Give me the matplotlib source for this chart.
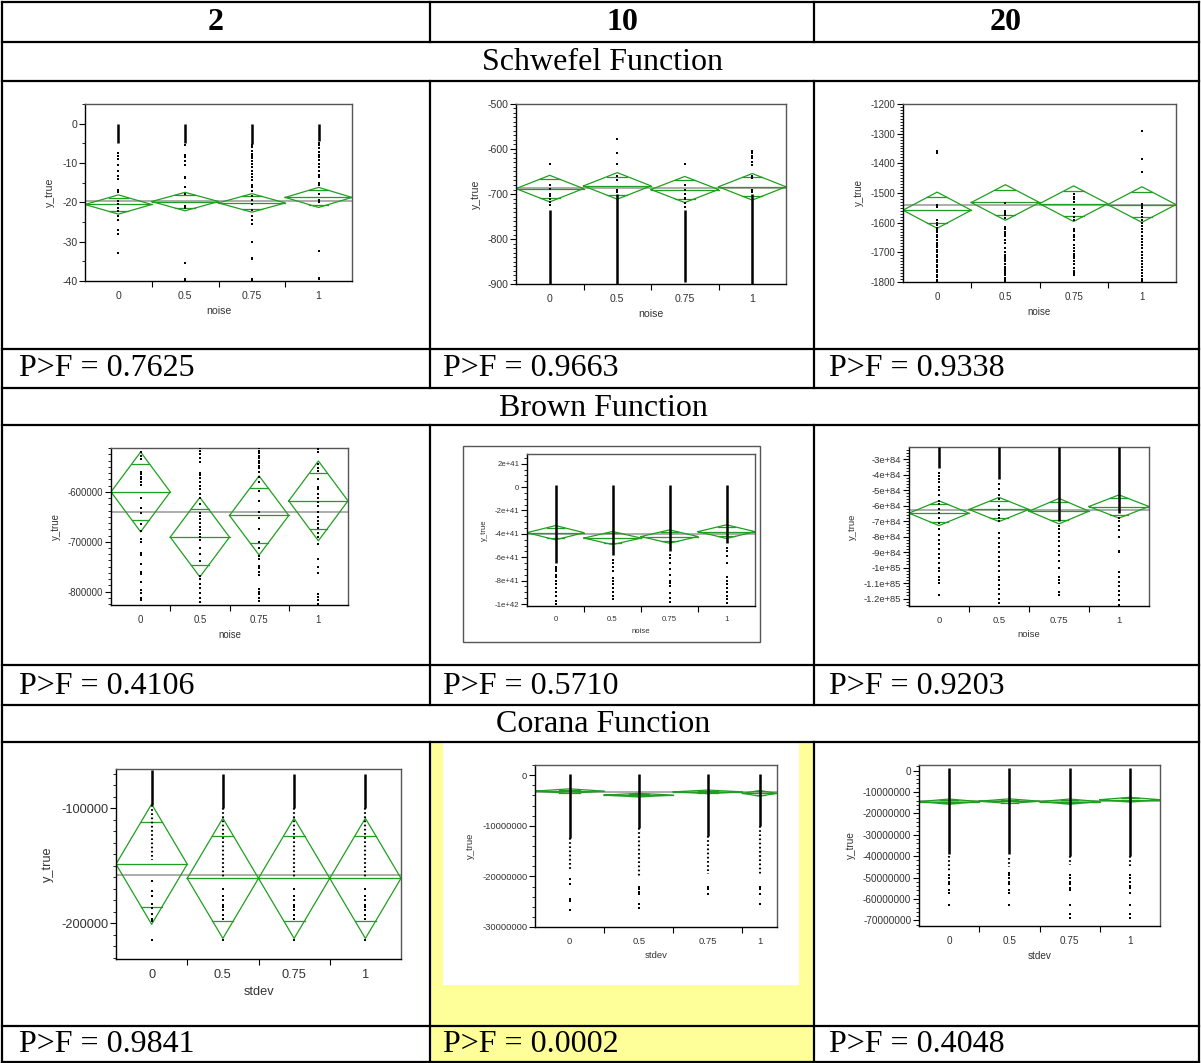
import matplotlib.pyplot as plt
from matplotlib.patches import Rectangle
from matplotlib.ticker import MultipleLocator
import numpy as np

plt.rcParams['axes.unicode_minus'] = False

W, H = 1201, 1063

COL_HEADERS = ['2', '10', '20']
FUNCTIONS = ['Schwefel Function', 'Brown Function', 'Corana Function']
P_VALUES = [['0.7625', '0.9663', '0.9338'],
            ['0.4106', '0.5710', '0.9203'],
            ['0.9841', '0.0002', '0.4048']]
GROUPS = ['0', '0.5', '0.75', '1']
EQUAL_W = [1, 1, 1, 1]

# ---- Schwefel, 2 ----
SCH2_MEAN = [-20.55, -19.8, -20.15, -18.75]
SCH2_CI = [2.45, 2.35, 2.35, 2.55]
SCH2_GRAND = -19.6
SCH2_DENSE = [(-0.2, -5.0), (-0.2, -4.8), (-0.2, -5.2), (-0.1, -4.5)]
SCH2_PTS = [
    [-7.5, -8.2, -9, -10.5, -12, -13.2, -14, -16.8, -17.5, -19.6, -20.4, -21.5, -22.3, -23.6, -24.5, -27, -28, -33],
    [-5.5, -8, -8.5, -9.5, -10.5, -13.5, -13.8, -16, -18, -21, -21.4, -35.5, -39.5, -39.8],
    [-5.5, -6, -7, -7.8, -8.3, -8.8, -9.5, -10.2, -11, -12, -12.8, -13.6, -14.3, -15.5, -16.2, -17, -18.3,
     -19.3, -20.4, -22, -23.5, -24.5, -25.5, -30, -34.2, -34.5, -39.5, -39.8],
    [-5, -5.5, -6.3, -7.2, -8, -8.6, -9.3, -10.2, -11, -12, -13, -13.5, -15, -15.6, -18, -19.4, -20, -32.5,
     -39.2, -39.6],
]

# ---- Schwefel, 10 ----
SCH10_MEAN = [-688, -682, -690, -684]
SCH10_CI = [29.5, 29.5, 29, 29.5]
SCH10_GRAND = -686.5
SCH10_DENSE = [(-735, -900), (-700, -900), (-735, -895), (-700, -900)]
SCH10_PTS = [
    [-634, -680, -688, -700, -705, -712, -718, -725],
    [-578, -610, -634, -660, -668, -690, -695],
    [-634, -680, -690, -700, -708, -712, -720, -728],
    [-605, -610, -615, -620, -628, -635, -660, -665, -690, -695],
]

# ---- Schwefel, 20 ----
SCH20_MEAN = [-1558, -1532, -1536, -1539]
SCH20_CI = [61, 60, 60, 60]
SCH20_GRAND = -1541
SCH20_PTS = [
    [-1360, -1366, -1541, -1547, -1592, -1600, -1608, -1617, -1625, -1633, -1642, -1650, -1658, -1667, -1675,
     -1683, -1692, -1700, -1708, -1717, -1725, -1733, -1742, -1750, -1758, -1767, -1775, -1783, -1792, -1798],
    [-1535, -1560, -1568, -1575, -1583, -1615, -1622, -1630, -1638, -1645, -1660, -1670, -1685, -1700, -1708,
     -1715, -1722, -1730, -1740, -1748, -1755, -1762, -1770, -1778, -1785, -1792, -1798],
    [-1503, -1512, -1520, -1532, -1553, -1567, -1580, -1590, -1620, -1628, -1640, -1650, -1660, -1675, -1685,
     -1695, -1705, -1712, -1720, -1730, -1740, -1752, -1762, -1770, -1778],
    [-1290, -1385, -1430, -1537, -1545, -1552, -1560, -1570, -1580, -1590, -1600, -1610, -1622, -1632, -1645,
     -1655, -1665, -1675, -1685, -1700, -1710, -1720, -1730, -1740, -1750, -1760, -1770, -1780, -1790, -1798],
]

# ---- Brown, 2 ----
BR2_MEAN = [-600000, -690700, -647300, -618000]
BR2_CI = [80000, 79700, 79300, 80000]
BR2_GRAND = -639300
BR2_PTS = [
    [-520000, -528000, -535000, -560000, -565000, -570000, -575000, -580000, -587000, -612000, -632000, -642000,
     -665000, -678000, -695000, -700000, -722000, -727000, -745000, -760000, -765000, -780000, -797000, -803000,
     -812000, -817000],
    [-513000, -518000, -525000, -532000, -540000, -563000, -567000, -572000, -580000, -588000, -595000, -605000,
     -612000, -625000, -642000, -648000, -655000, -662000, -670000, -677000, -685000, -690000, -697000, -712000,
     -725000, -738000, -768000, -775000, -785000, -793000, -802000, -812000, -820000],
    [-513000, -518000, -523000, -528000, -533000, -538000, -543000, -548000, -553000, -560000, -570000, -580000,
     -598000, -618000, -640000, -652000, -675000, -700000, -712000, -728000, -735000, -748000, -753000, -760000,
     -766000, -795000, -800000, -805000, -812000, -818000],
    [-515000, -520000, -545000, -552000, -558000, -575000, -590000, -595000, -605000, -612000, -620000, -628000,
     -640000, -650000, -658000, -665000, -672000, -683000, -690000, -705000, -735000, -750000, -763000, -805000,
     -810000, -817000, -825000],
]

# ---- Brown, 10 ----
BR10_MEAN = [-3.9e41, -4.36e41, -4.23e41, -3.81e41]
BR10_CI = [0.61e41, 0.56e41, 0.57e41, 0.585e41]
BR10_GRAND = -4.03e41
BR10_DENSE = [(0.2e41, -6.5e41), (0.2e41, -5.8e41), (0.2e41, -5.5e41), (0.2e41, -4.8e41)]
BR10_PTS = [
    [-6.8e41, -7.0e41, -7.2e41, -7.5e41, -7.7e41, -8.0e41, -8.3e41, -8.6e41, -9.0e41, -9.3e41, -9.7e41, -1.0e42],
    [-6.2e41, -6.5e41, -6.8e41, -7.2e41, -7.8e41, -8.0e41, -8.3e41, -8.6e41, -9.0e41, -9.3e41, -9.6e41],
    [-5.8e41, -6.1e41, -6.5e41, -7.0e41, -7.5e41, -8.0e41, -8.2e41, -8.5e41, -9.1e41, -9.5e41, -9.8e41],
    [-5.2e41, -5.5e41, -5.9e41, -6.5e41, -7.7e41, -8.0e41, -8.3e41, -8.6e41, -9.0e41, -9.3e41, -9.6e41, -9.9e41],
]

# ---- Brown, 20 ----
BR20_MEAN = [-6.49e84, -6.25e84, -6.36e84, -6.06e84]
BR20_CI = [0.8e84, 0.78e84, 0.82e84, 0.75e84]
BR20_GRAND = -6.28e84
BR20_DENSE = [(-2.2e84, -3.6e84), (-2.2e84, -4.3e84), (-2.2e84, -7.0e84), (-2.2e84, -6.5e84)]
BR20_PTS = [
    [-3.9e84, -4.1e84, -4.3e84, -4.5e84, -4.8e84, -5.0e84, -5.3e84, -5.7e84, -5.9e84, -6.2e84, -6.5e84, -6.8e84,
     -7.1e84, -7.5e84, -7.9e84, -8.2e84, -8.5e84, -8.8e84, -9.1e84, -9.4e84, -9.7e84, -1.0e85, -1.02e85,
     -1.06e85, -1.08e85, -1.1e85, -1.18e85],
    [-4.6e84, -4.9e84, -5.3e84, -5.6e84, -6.0e84, -6.3e84, -6.6e84, -6.8e84, -7.0e84, -7.8e84, -8.1e84, -8.4e84,
     -8.7e84, -9.0e84, -9.3e84, -9.6e84, -9.9e84, -1.02e85, -1.06e85, -1.08e85, -1.11e85, -1.14e85, -1.17e85,
     -1.2e85, -1.23e85],
    [-7.3e84, -7.5e84, -7.8e84, -8.0e84, -8.3e84, -8.6e84, -8.9e84, -9.2e84, -9.6e84, -1.0e85, -1.06e85,
     -1.08e85, -1.1e85, -1.16e85, -1.18e85],
    [-6.8e84, -7.0e84, -7.3e84, -7.6e84, -8.0e84, -8.9e84, -9.0e84, -1.03e85, -1.06e85, -1.09e85, -1.12e85,
     -1.15e85, -1.18e85, -1.21e85, -1.24e85],
]

# ---- Corana, 2 ----
COR2_MEAN = [-148700, -161000, -161000, -161000]
COR2_CI = [52300, 52300, 52300, 52300]
COR2_GRAND = -157800
COR2_DENSE = [(-67000, -97000), (-70000, -100000), (-70000, -100000), (-70000, -100000)]
COR2_DOTTED = [(-97000, -145000), (-100000, -160000), (-100000, -160000), (-100000, -160000)]
COR2_PTS = [
    [-163000, -172000, -176000, -183000, -187000, -192000, -196000, -198000, -215000],
    [-170000, -176000, -180000, -184000, -186000, -189000, -193000, -196000, -215000],
    [-170000, -176000, -180000, -184000, -186000, -189000, -193000, -196000, -215000],
    [-170000, -176000, -180000, -184000, -186000, -189000, -193000, -196000, -215000],
]

# ---- Corana, 10 ----
COR10_WIDTH = [1, 1, 1, 0.5]
COR10_MEAN = [-3.16e6, -3.95e6, -3.3e6, -3.6e6]
COR10_CI = [0.45e6, 0.35e6, 0.35e6, 0.55e6]
COR10_GRAND = -3.42e6
COR10_DENSE = [(0.3e6, -1.25e7), (0.3e6, -1.05e7), (0.3e6, -1.2e7), (0.3e6, -1.0e7)]
COR10_DOTTED = [(-1.25e7, -1.9e7), (-1.05e7, -2.0e7), (-1.2e7, -1.95e7), (-1.0e7, -1.95e7)]
COR10_PTS = [
    [-2.05e7, -2.15e7, -2.45e7, -2.48e7, -2.67e7],
    [-2.2e7, -2.25e7, -2.3e7, -2.35e7, -2.55e7, -2.62e7],
    [-2.2e7, -2.25e7, -2.35e7],
    [-2.2e7, -2.25e7, -2.35e7, -2.55e7],
]

# ---- Corana, 20 ----
COR20_MEAN = [-1.45e7, -1.43e7, -1.45e7, -1.36e7]
COR20_CI = [0.12e7, 0.11e7, 0.12e7, 0.11e7]
COR20_GRAND = -1.41e7
COR20_DENSE = [(0.1e7, -3.9e7), (0.1e7, -3.9e7), (0.1e7, -4.0e7), (0.1e7, -4.0e7)]
COR20_DOTTED = [(-4.0e7, -4.7e7), (-4.1e7, -4.5e7), (-4.0e7, -4.4e7), (-4.0e7, -4.5e7)]
COR20_PTS = [
    [-4.9e7, -5.0e7, -5.2e7, -5.3e7, -5.6e7, -5.7e7, -6.3e7],
    [-4.8e7, -4.9e7, -5.0e7, -5.2e7, -5.3e7, -5.6e7, -5.7e7, -6.3e7],
    [-4.9e7, -5.0e7, -5.2e7, -5.3e7, -5.5e7, -5.6e7, -6.3e7, -6.7e7, -6.9e7],
    [-4.9e7, -5.0e7, -5.2e7, -5.4e7, -5.5e7, -5.7e7, -6.3e7, -6.7e7, -6.9e7],
]

GREEN = '#1f9f1f'
SERIF = 'Liberation Serif'
SANS = 'Liberation Sans'
BIG = 23

fig = plt.figure(figsize=(W / 100, H / 100), dpi=100)

# table background / grid in pixel coordinates
bg = fig.add_axes([0, 0, 1, 1])
bg.set_xlim(0, W)
bg.set_ylim(H, 0)
bg.axis('off')
bg.add_patch(Rectangle((430, 742), 384, 320, facecolor='#ffff99', edgecolor='none'))
bg.add_patch(Rectangle((443, 742), 356, 243, facecolor='white', edgecolor='none'))
bg.add_patch(Rectangle((463, 446), 297, 196, facecolor='none', edgecolor='#555555', lw=1.0))

for y in [2, 42, 81, 349, 388, 425, 665, 705, 742, 1026, 1062]:
    bg.plot([2, 1199], [y, y], color='black', lw=1.6, solid_capstyle='projecting')
for x in [2, 1199]:
    bg.plot([x, x], [2, 1062], color='black', lw=1.6)
for x in [430, 814]:
    for y0, y1 in [(2, 42), (81, 388), (425, 705), (742, 1062)]:
        bg.plot([x, x], [y0, y1], color='black', lw=1.6)

col_centers = [216, 622, 1006]
for cx, t in zip(col_centers, COL_HEADERS):
    bg.text(cx, 23, t, ha='center', va='center', fontsize=BIG, fontweight='bold', family=SERIF)
for cy, t in zip([62, 408, 725], FUNCTIONS):
    bg.text(603, cy, t, ha='center', va='center', fontsize=BIG, family=SERIF)
for cy, row in zip([369, 686, 1045], P_VALUES):
    for px, p in zip([19, 443, 829], row):
        bg.text(px, cy, 'P>F = ' + p, ha='left', va='center', fontsize=BIG, family=SERIF)


def draw_panel(rect, means, ci, grand, pts, dense, dotted, widths, ylim, yticks, ylabels,
               minor, xlabel, fs):
    x0, y0, x1, y1 = rect
    ax = fig.add_axes([x0 / W, 1 - y1 / H, (x1 - x0) / W, (y1 - y0) / H])
    edges = np.concatenate([[0], np.cumsum(widths)])
    centers = (edges[:-1] + edges[1:]) / 2
    ax.set_xlim(0, edges[-1])
    ax.set_ylim(*ylim)
    ax.axhline(grand, color='#a0a0a0', lw=1.2, zorder=1)
    k = np.sqrt(2) / 2
    for i in range(len(means)):
        l, r, c = edges[i], edges[i + 1], centers[i]
        m, h = means[i], ci[i]
        ax.plot([l, c, r, c, l], [m, m + h, m, m - h, m], color=GREEN, lw=0.9, zorder=2)
        ax.plot([l, r], [m, m], color=GREEN, lw=0.9, zorder=2)
        half = (1 - k) * (r - l) / 2
        for s in (1, -1):
            ax.plot([c - half, c + half], [m + s * k * h] * 2, color=GREEN, lw=0.9, zorder=2)
        if dense is not None:
            ax.plot([c, c], dense[i], color='black', lw=1.8, zorder=3, solid_capstyle='butt')
        if dotted is not None:
            ax.plot([c, c], dotted[i], color='black', lw=1.5, ls=(0, (0.8, 1.2)), zorder=3)
        ax.plot([c] * len(pts[i]), pts[i], 's', color='black', ms=1.5, mew=0, zorder=3)

    ax.set_yticks(yticks)
    ax.set_yticklabels(ylabels)
    ax.yaxis.set_minor_locator(MultipleLocator(minor))
    ax.tick_params(axis='y', which='major', length=4, width=0.8, direction='out', pad=1.5,
                   labelsize=fs, labelcolor='#333333')
    ax.tick_params(axis='y', which='minor', length=2.2, width=0.6, direction='out')
    ax.set_xticks(centers)
    ax.set_xticklabels(GROUPS)
    ax.set_xticks(edges[1:-1], minor=True)
    ax.tick_params(axis='x', which='major', length=0, pad=7, labelsize=fs, labelcolor='#333333')
    ax.tick_params(axis='x', which='minor', length=4, width=0.8, direction='out')
    for t in ax.get_xticklabels() + ax.get_yticklabels():
        t.set_family(SANS)
    ax.set_xlabel(xlabel, fontsize=fs, color='#333333', family=SANS, labelpad=4)
    ax.set_ylabel('y_true', fontsize=fs, color='#333333', family=SANS, labelpad=5)
    for side in ['left', 'bottom']:
        ax.spines[side].set_color('black')
        ax.spines[side].set_linewidth(1.0)
    for side in ['top', 'right']:
        ax.spines[side].set_color('#555555')
        ax.spines[side].set_linewidth(1.0)
    return ax


draw_panel((85, 104, 352, 281), SCH2_MEAN, SCH2_CI, SCH2_GRAND, SCH2_PTS, SCH2_DENSE, None, EQUAL_W,
           (-40, 5), [0, -10, -20, -30, -40], ['0', '-10', '-20', '-30', '-40'], 5, 'noise', 7.6)
draw_panel((516, 104, 786, 284), SCH10_MEAN, SCH10_CI, SCH10_GRAND, SCH10_PTS, SCH10_DENSE, None, EQUAL_W,
           (-900, -500), [-500, -600, -700, -800, -900], ['-500', '-600', '-700', '-800', '-900'], 10,
           'noise', 7.6)
draw_panel((903, 104, 1176, 282), SCH20_MEAN, SCH20_CI, SCH20_GRAND, SCH20_PTS, None, None, EQUAL_W,
           (-1800, -1200), [-1200, -1300, -1400, -1500, -1600, -1700, -1800],
           ['-1200', '-1300', '-1400', '-1500', '-1600', '-1700', '-1800'], 10, 'noise', 7.0)
draw_panel((111, 448, 348, 605), BR2_MEAN, BR2_CI, BR2_GRAND, BR2_PTS, None, None, EQUAL_W,
           (-826700, -512000), [-600000, -700000, -800000], ['-600000', '-700000', '-800000'], 12500,
           'noise', 6.9)
draw_panel((527, 454, 755, 606), BR10_MEAN, BR10_CI, BR10_GRAND, BR10_PTS, BR10_DENSE, None, EQUAL_W,
           (-1.017e42, 2.83e41), [2e41, 0, -2e41, -4e41, -6e41, -8e41, -1e42],
           ['2e+41', '0', '-2e+41', '-4e+41', '-6e+41', '-8e+41', '-1e+42'], 0.5e41, 'noise', 5.6)
draw_panel((909, 447, 1149, 606), BR20_MEAN, BR20_CI, BR20_GRAND, BR20_PTS, BR20_DENSE, None, EQUAL_W,
           (-1.248e85, -2.22e84),
           [-3e84, -4e84, -5e84, -6e84, -7e84, -8e84, -9e84, -1e85, -1.1e85, -1.2e85],
           ['-3e+84', '-4e+84', '-5e+84', '-6e+84', '-7e+84', '-8e+84', '-9e+84', '-1e+85', '-1.1e+85',
            '-1.2e+85'], 0.2e84, 'noise', 6.8)
draw_panel((116, 769, 401, 959), COR2_MEAN, COR2_CI, COR2_GRAND, COR2_PTS, COR2_DENSE, COR2_DOTTED, EQUAL_W,
           (-231200, -65900), [-100000, -200000], ['-100000', '-200000'], 10000, 'stdev', 9.2)
draw_panel((535, 765, 777, 927), COR10_MEAN, COR10_CI, COR10_GRAND, COR10_PTS, COR10_DENSE, COR10_DOTTED,
           COR10_WIDTH, (-3e7, 2e6), [0, -1e7, -2e7, -3e7], ['0', '-10000000', '-20000000', '-30000000'],
           2e6, 'stdev', 6.8)
draw_panel((919, 765, 1160, 926), COR20_MEAN, COR20_CI, COR20_GRAND, COR20_PTS, COR20_DENSE, COR20_DOTTED,
           EQUAL_W, (-7.26e7, 2.6e6), [0, -1e7, -2e7, -3e7, -4e7, -5e7, -6e7, -7e7],
           ['0', '-10000000', '-20000000', '-30000000', '-40000000', '-50000000', '-60000000', '-70000000'],
           2e6, 'stdev', 7.2)

fig.savefig('out.png', dpi=100)
